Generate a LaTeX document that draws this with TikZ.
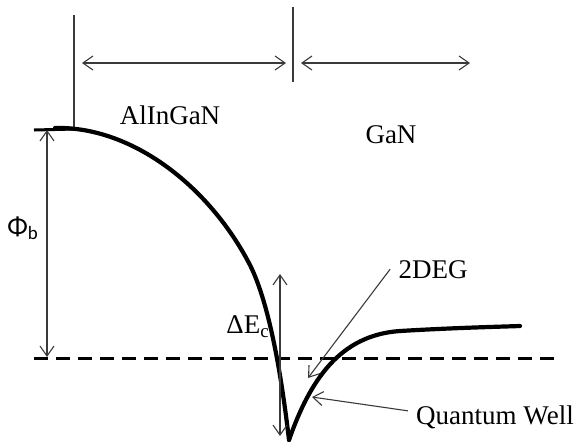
\documentclass[tikz,border=0pt]{standalone}
\usepackage{fontspec}
\setmainfont{Liberation Serif}
\newfontfamily\sanslabel{Carlito}
\usetikzlibrary{arrows.meta, positioning}
\definecolor{linegray}{HTML}{3A3A3A}

\begin{document}
\begin{tikzpicture}[
    x=0.5pt, y=-0.5pt,
    band/.style={line width=2.1pt, line cap=round, line join=round},
    thinline/.style={line width=0.55pt, color=linegray},
    dimarrow/.style={{Straight Barb[length=5pt,width=7pt]}-{Straight Barb[length=5pt,width=7pt]}, thinline},
    pointer/.style={-{Straight Barb[length=5pt,width=7pt]}, thinline},
    layer/.style={font=\fontsize{13.5}{16}\selectfont, anchor=base, inner sep=4pt},
    symlabel/.style={font=\fontsize{13.5}{16}\selectfont, anchor=base west, inner sep=0pt}
]
\useasboundingbox (0,0) rectangle (577,441);

% interfaces
\coordinate (surfTop) at (74,15);
\coordinate (surfBot) at (74,128);
\coordinate (hetTop) at (293,7);
\coordinate (hetBot) at (293,82);
\draw[thinline] (surfTop) -- (surfBot);
\draw[thinline] (hetTop) -- (hetBot);

% layer widths
\coordinate (wA) at (74,63);
\coordinate (wB) at (293,63);
\coordinate (wC) at (470,63);
\draw[dimarrow, shorten <=4pt, shorten >=3.5pt] (wA) -- (wB);
\draw[dimarrow, shorten <=4pt] (wB) -- (wC);

\node[layer] (barrier) at (170,124) {AlInGaN};
\node[layer] (channel) at (391,143) {GaN};

% Fermi level
\coordinate (efL) at (34,358);
\coordinate (efR) at (555,358);
\draw[line width=1.5pt, dash pattern=on 7pt off 4pt] (efL) -- (efR);

% conduction band
\draw[line width=1.5pt] (34,130) -- (75,129);
\draw[band] (55,128) .. controls (130,126) and (208,184) .. (250,265)
    .. controls (270,305) and (282,380) .. (289,440);
\draw[band] (289,440) .. controls (310,380) and (340,335) .. (400,331)
    .. controls (450,328) and (490,327) .. (520,326);

% barrier height
\coordinate (phiTop) at (47,130);
\coordinate (phiBot) at (47,357);
\draw[dimarrow] (phiTop) -- (phiBot);
\node[symlabel, font=\sanslabel\fontsize{13.5}{16}\selectfont] (phib) at (7,235) {Φ\textsubscript{b}};

% band offset
\coordinate (ecTop) at (280,274);
\coordinate (ecBot) at (280,436);
\draw[dimarrow] (ecTop) -- (ecBot);
\node[symlabel] (dec) at (226,333) {ΔE\textsubscript{c}};

% labels with pointers
\node[layer] (deg) at (433,278) {2DEG};
\coordinate (degTip) at (308,378);
\draw[pointer] (deg.west) -- (degTip);

\node[layer] (qw) at (495,424) {Quantum Well};
\coordinate (qwTip) at (312,397);
\draw[pointer] ([yshift=3pt]qw.west) -- (qwTip);

\end{tikzpicture}
\end{document}
